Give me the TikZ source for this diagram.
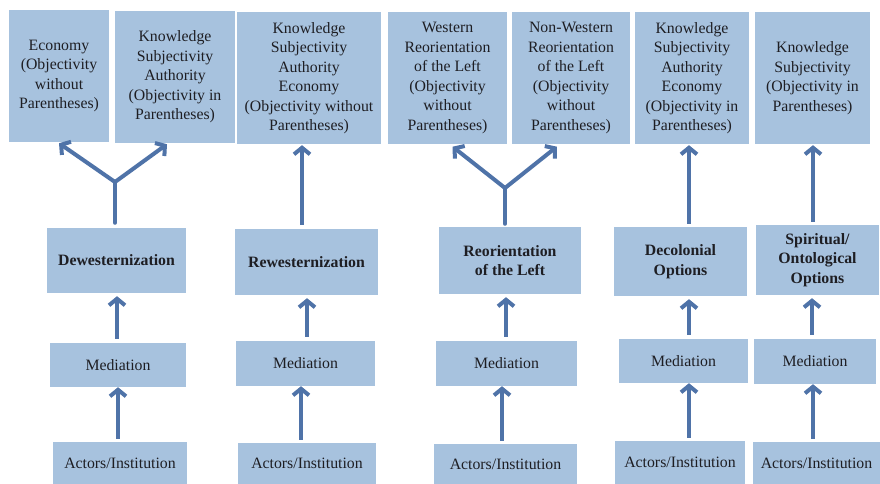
\documentclass[tikz,border=0pt]{standalone}
\usepackage{fontspec}
\setmainfont{Liberation Serif}
\usetikzlibrary{arrows.meta,calc}
\definecolor{boxfill}{RGB}{167,194,222}
\definecolor{arrowcol}{RGB}{79,115,168}
\definecolor{txtcol}{RGB}{30,30,35}
\begin{document}
\begin{tikzpicture}[x=1pt,y=-1pt,
  box/.style={fill=boxfill, inner sep=0pt, align=center, text=txtcol,
    font=\fontsize{15.8}{19.5}\selectfont},
  bbox/.style={box, font=\fontsize{15.8}{19.5}\selectfont\bfseries},
  arr/.style={draw=arrowcol, line width=4pt, -{Straight Barb[length=6.5pt,width=16pt]}},
  stem/.style={draw=arrowcol, line width=4pt, line cap=round}]
\useasboundingbox (0,0) rectangle (880,484);
% top row
\node[box, minimum width=100pt, minimum height=132pt] (t1) at (59,76) {Economy\\(Objectivity\\without\\Parentheses)};
\node[box, minimum width=120pt, minimum height=132pt] (t2) at (175,77) {Knowledge\\Subjectivity\\Authority\\(Objectivity in\\Parentheses)};
\node[box, minimum width=144pt, minimum height=132pt] (t3) at (309,78) {Knowledge\\Subjectivity\\Authority\\Economy\\(Objectivity without\\Parentheses)};
\node[box, minimum width=119pt, minimum height=132pt] (t4) at (447.5,78) {Western\\Reorientation\\of the Left\\(Objectivity\\without\\Parentheses)};
\node[box, minimum width=118pt, minimum height=132pt] (t5) at (571,78) {Non-Western\\Reorientation\\of the Left\\(Objectivity\\without\\Parentheses)};
\node[box, minimum width=114pt, minimum height=132pt] (t6) at (692,78) {Knowledge\\Subjectivity\\Authority\\Economy\\(Objectivity in\\Parentheses)};
\node[box, minimum width=115pt, minimum height=132pt] (t7) at (812.5,78) {Knowledge\\Subjectivity\\(Objectivity in\\Parentheses)};
% middle row
\node[bbox, minimum width=139pt, minimum height=65pt] (m1) at (116.5,260.5) {Dewesternization};
\node[bbox, minimum width=143pt, minimum height=66pt] (m2) at (306.5,262) {Rewesternization};
\node[bbox, minimum width=142pt, minimum height=67pt] (m3) at (510,260.5) {Reorientation\\of the Left};
\node[bbox, minimum width=133pt, minimum height=69pt] (m4) at (680.5,261.5) {Decolonial\\Options};
\node[bbox, minimum width=123pt, minimum height=70pt] (m5) at (817.5,260) {Spiritual/\\Ontological\\Options};
% mediation row
\node[box, minimum width=136pt, minimum height=44pt] (d1) at (118,365) {Mediation};
\node[box, minimum width=139pt, minimum height=45pt] (d2) at (305.5,363.5) {Mediation};
\node[box, minimum width=141pt, minimum height=45pt] (d3) at (506.5,363.5) {Mediation};
\node[box, minimum width=129pt, minimum height=44pt] (d4) at (683.5,361) {Mediation};
\node[box, minimum width=122pt, minimum height=45pt] (d5) at (815,361.5) {Mediation};
% actors row
\node[box, minimum width=134pt, minimum height=42pt] (a1) at (120,463) {Actors/Institution};
\node[box, minimum width=138pt, minimum height=41pt] (a2) at (307,463.5) {Actors/Institution};
\node[box, minimum width=143pt, minimum height=40pt] (a3) at (505.5,464) {Actors/Institution};
\node[box, minimum width=130pt, minimum height=43pt] (a4) at (680,462.5) {Actors/Institution};
\node[box, minimum width=127pt, minimum height=42pt] (a5) at (816.5,463) {Actors/Institution};
% column guide coordinates
\coordinate (xa1) at (118,0); \coordinate (xm1) at (117,0); \coordinate (xt1) at (115,0);
\coordinate (xa2) at (301,0); \coordinate (xm2) at (307,0); \coordinate (xt2) at (302,0);
\coordinate (xa3) at (502,0); \coordinate (xm3) at (506,0); \coordinate (xt3) at (505,0);
\coordinate (xa4) at (689,0); \coordinate (xm4) at (689,0); \coordinate (xt4) at (689,0);
\coordinate (xa5) at (813,0); \coordinate (xm5) at (812,0); \coordinate (xt5) at (813,0);
\coordinate (s1) at (115,182);
\coordinate (s3) at (505,188);
% actors -> mediation, mediation -> middle boxes
\foreach \i in {1,...,5}{
  \draw[arr, shorten <=3pt] (a\i.north -| xa\i) -- (d\i.south -| xa\i);
  \draw[arr, shorten <=4pt, shorten >=3pt] (d\i.north -| xm\i) -- (m\i.south -| xm\i);
}
% upper arrows
\draw[stem, shorten <=5pt] (m1.north -| xt1) -- (s1);
\draw[arr] (s1) -- ($(t1.south)+(0,1)$);
\draw[arr] (s1) -- ($(t2.south)+(-8,1)$);
\draw[arr, shorten <=4pt, shorten >=1pt] (m2.north -| xt2) -- (t3.south -| xt2);
\draw[stem, shorten <=3pt] (m3.north -| xt3) -- (s3);
\draw[arr, shorten >=4pt] (s3) -- ($(t4.south)+(2,0)$);
\draw[arr, shorten >=4pt] (s3) -- ($(t5.south)+(-11,0)$);
\draw[arr, shorten <=3pt, shorten >=1pt] (m4.north -| xt4) -- (t6.south -| xt4);
\draw[arr, shorten <=3pt, shorten >=1pt] (m5.north -| xt5) -- (t7.south -| xt5);
\end{tikzpicture}
\end{document}
